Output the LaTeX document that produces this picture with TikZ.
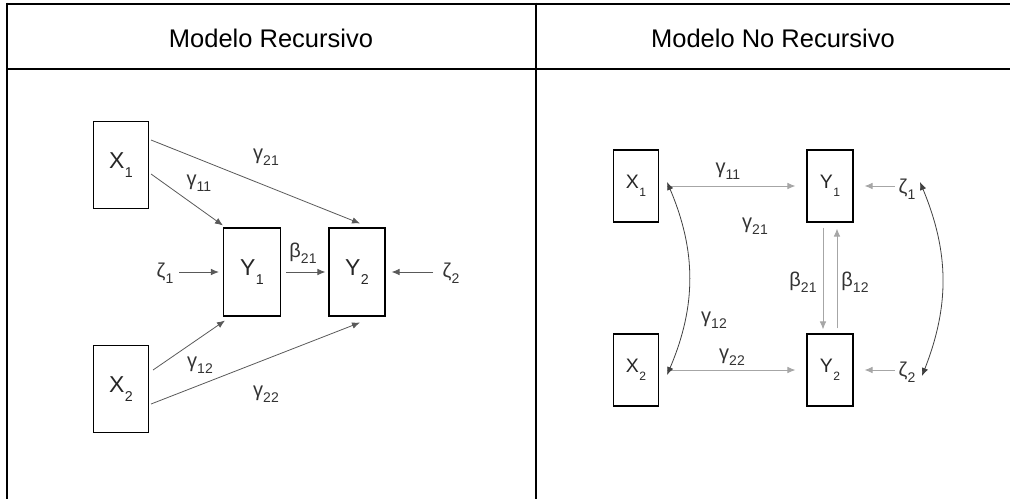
\documentclass[tikz,border=0pt]{standalone}
\usepackage{fontspec}
\usepackage{graphicx}
\setmainfont{Liberation Sans}
\usetikzlibrary{arrows.meta}

% variabile con pedice
\newcommand{\ix}[3][-.6ex]{#2\kern.5pt\raisebox{#1}{\scalebox{.62}{#3}}}
\newcommand{\gx}[2]{#1\raisebox{-.55ex}{\scalebox{.7}{#2}}}

\begin{document}
\begin{tikzpicture}[x=1pt, y=-1pt, >={Latex[length=8pt,width=6.5pt]},
    var/.style={draw, line width=1.1pt, minimum width=#1, inner sep=0pt},
    var/.default=55pt,
    lab/.style={font=\fontsize{23}{23}\selectfont, text=black!85, inner sep=1pt},
    labr/.style={font=\fontsize{19.5}{19.5}\selectfont, text=black!85, inner sep=1pt},
    par/.style={font=\fontsize{20}{20}\selectfont, text=black!80, inner sep=1pt},
    cell/.style={line width=2pt},
    path1/.style={->, line width=0.8pt, draw=black!65},
    path2/.style={->, line width=0.8pt, draw=black!35}]
    \useasboundingbox (0,0) rectangle (1010,499);

    % Tabella
    \draw[cell] (6,3.5) -- (1010,3.5);
    \draw[cell, line width=1.6pt] (6,69) -- (1010,69);
    \draw[cell] (7,2.5) -- (7,499);
    \draw[cell, line width=1.8pt] (536,2.5) -- (536,499);
    \node[font=\fontsize{25.5}{25.5}\selectfont] (h1) at (271,38) {Modelo Recursivo};
    \node[font=\fontsize{25.5}{25.5}\selectfont] (h2) at (773,38) {Modelo No Recursivo};

    % Modello ricorsivo
    \node[var, minimum height=87pt, lab] (X1) at (121,165) {\ix[-.75ex]{X}{1}};
    \node[var, minimum height=87pt, lab] (X2) at (121,389) {\ix[-.75ex]{X}{2}};
    \node[var=57pt, minimum height=88pt, lab] (Y1) at (252,272) {\ix[-.75ex]{Y}{1}};
    \node[var=56pt, minimum height=88pt, lab] (Y2) at (357,272) {\ix[-.75ex]{Y}{2}};
    \node[par] (z1) at (165,273) {\gx{ζ}{1}};
    \node[par] (z2) at (451,273) {\gx{ζ}{2}};

    \draw[path1] ([xshift=14pt, yshift=1pt]z1.center) -- ([xshift=-4pt]Y1.west);
    \draw[path1] ([xshift=5pt]Y1.east) -- ([xshift=-3pt]Y2.west);
    \draw[path1] ([xshift=-18pt, yshift=1pt]z2.center) -- ([xshift=6pt]Y2.east);
    \draw[path1] ([xshift=2pt, yshift=-9pt]X1.east) -- ([yshift=2pt]Y1.north west);
    \draw[path1] ([xshift=2pt, yshift=25pt]X1.east) -- ([xshift=3pt, yshift=4pt]Y2.north);
    \draw[path1] ([xshift=4pt, yshift=19pt]X2.east) -- ([xshift=2pt, yshift=-4pt]Y1.south west);
    \draw[path1] ([xshift=2pt, yshift=-15pt]X2.east) -- ([xshift=3pt, yshift=-6pt]Y2.south);

    \node[par] (g21) at (266,157) {\gx{γ}{21}};
    \node[par] (g11) at (199,183) {\gx{γ}{11}};
    \node[par] (b21) at (303,253) {\gx{β}{21}};
    \node[par] (g12) at (200,365) {\gx{γ}{12}};
    \node[par] (g22) at (266,394) {\gx{γ}{22}};

    % Modello non ricorsivo
    \node[var=45pt, minimum height=72pt, labr] (X1r) at (636,186) {\ix[-.75ex]{X}{1}};
    \node[var=45pt, minimum height=72pt, labr] (X2r) at (636,370) {\ix[-.75ex]{X}{2}};
    \node[var=46pt, minimum height=72pt, labr] (Y1r) at (830,186) {\ix[-.75ex]{Y}{1}};
    \node[var=46pt, minimum height=72pt, labr] (Y2r) at (830,370) {\ix[-.75ex]{Y}{2}};
    \node[par] (z1r) at (907,189) {\gx{ζ}{1}};
    \node[par] (z2r) at (907,372) {\gx{ζ}{2}};

    \coordinate (a1) at ([xshift=8pt, yshift=4pt]X1r.east);
    \coordinate (a2) at ([xshift=8pt, yshift=-5pt]X2r.east);
    \coordinate (c1) at ([xshift=13pt, yshift=7pt]z1r.center);
    \coordinate (c2) at ([xshift=15pt, yshift=-4pt]z2r.center);

    \draw[path2] ([xshift=8pt]X1r.east) -- ([xshift=-11pt]Y1r.west);
    \draw[path2] ([xshift=8pt]X2r.east) -- ([xshift=-11pt]Y2r.west);
    \draw[path2] ([xshift=-12pt]z1r.center |- Y1r.east) -- ([xshift=11pt]Y1r.east);
    \draw[path2] ([xshift=-12pt]z2r.center |- Y2r.east) -- ([xshift=11pt]Y2r.east);
    \draw[path2] ([xshift=-7pt, yshift=-5pt]Y1r.south) -- ([xshift=-7pt, yshift=4pt]Y2r.north);
    \draw[path2] ([xshift=7pt, yshift=5pt]Y2r.north) -- ([xshift=7pt, yshift=-6pt]Y1r.south);
    \draw[<->, line width=0.8pt, draw=black!75] (a1) to[bend left=23] (a2);
    \draw[<->, line width=0.8pt, draw=black!75] (c1) to[bend left=22] (c2);

    \node[par] (g11r) at (728,171) {\gx{γ}{11}};
    \node[par] (g21r) at (755,226) {\gx{γ}{21}};
    \node[par] (g12r) at (714,320) {\gx{γ}{12}};
    \node[par] (g22r) at (732,357) {\gx{γ}{22}};
    \node[par] (b21r) at (803,282) {\gx{β}{21}};
    \node[par] (b12r) at (855,282) {\gx{β}{12}};
\end{tikzpicture}
\end{document}
